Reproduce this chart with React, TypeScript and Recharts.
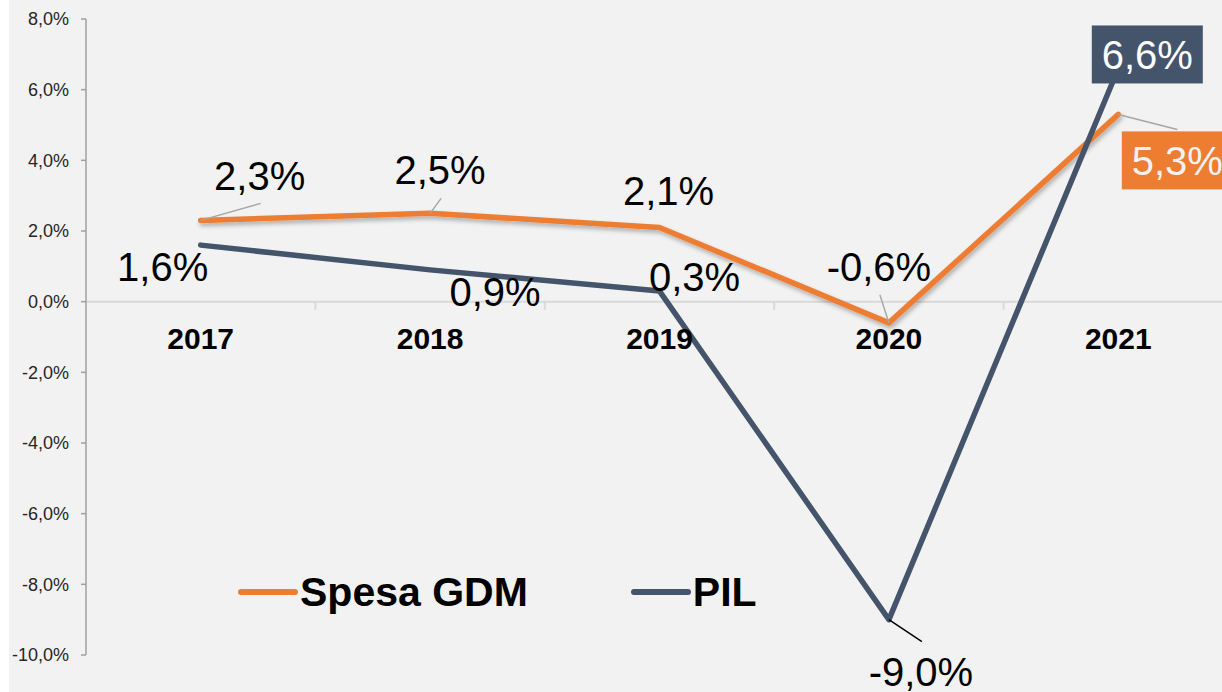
import React from 'react';
import {
  LineChart,
  Line,
  XAxis,
  YAxis,
  ReferenceLine,
  ReferenceDot,
  LabelList,
  Legend,
} from 'recharts';

const years = ['2017', '2018', '2019', '2020', '2021'];
const spesaGdm = [2.3, 2.5, 2.1, -0.6, 5.3];
const pil = [1.6, 0.9, 0.3, -9.0, 6.6];
const yTicks = [-10, -8, -6, -4, -2, 0, 2, 4, 6, 8];

const ORANGE = '#ed7d31';
const SLATE = '#44546a';
const FONT = "'Liberation Sans', Arial, Helvetica, sans-serif";

const data = years.map((year, i) => ({
  x: i + 0.5,
  year,
  spesa: spesaGdm[i],
  pil: pil[i],
}));

// where each value label sits, relative to its point
type LabelPlace = {
  dx: number;
  dy: number;
  lead?: [number, number];
  leadColor?: string;
  box?: string;
  color?: string;
};

const spesaPlaces: LabelPlace[] = [
  { dx: 59, dy: -45, lead: [60, -17] },
  { dx: 10, dy: -44, lead: [11, -15] },
  { dx: 9, dy: -37 },
  { dx: -10, dy: -56, lead: [-9, -28] },
  { dx: 59, dy: 46, lead: [59, 15], box: ORANGE, color: '#f2f2f2' },
];

const pilPlaces: LabelPlace[] = [
  { dx: -38, dy: 22 },
  { dx: 65, dy: 22 },
  { dx: 35, dy: -14 },
  { dx: 32, dy: 52, lead: [33, 22], leadColor: '#000' },
  { dx: 29, dy: -14, box: SLATE, color: '#fff' },
];

const fmt = (v: number) => `${v.toFixed(1).replace('.', ',')}%`;

const makeLabel = (places: LabelPlace[]) => (props: any) => {
  const { x, y, value, index } = props;
  const p = places[index];
  if (!p || x == null || y == null) return null;
  const cx = x + p.dx;
  const cy = y + p.dy;
  const fs = 40;
  return (
    <g>
      {p.lead && (
        <line
          x1={x}
          y1={y}
          x2={x + p.lead[0]}
          y2={y + p.lead[1]}
          stroke={p.leadColor || '#a6a6a6'}
          strokeWidth={1.5}
        />
      )}
      {p.box && <rect x={cx - 55.5} y={cy - 29} width={111} height={58} fill={p.box} />}
      <text
        x={cx}
        y={cy + fs * 0.358}
        textAnchor="middle"
        fontSize={fs}
        fontFamily={FONT}
        fill={p.color || '#000'}
      >
        {fmt(value)}
      </text>
    </g>
  );
};

const renderLegend = () => (
  <div style={{ display: 'flex', alignItems: 'center', fontFamily: FONT }}>
    {[
      { name: 'Spesa GDM', color: ORANGE },
      { name: 'PIL', color: SLATE },
    ].map((item, i) => (
      <div
        key={item.name}
        style={{ display: 'flex', alignItems: 'center', marginLeft: i === 0 ? 0 : 103 }}
      >
        <svg width={60} height={12} style={{ display: 'block' }}>
          <line x1={3} y1={6} x2={57} y2={6} stroke={item.color} strokeWidth={6} strokeLinecap="round" />
        </svg>
        <span style={{ fontSize: 41, fontWeight: 'bold', color: '#000', marginLeft: 2, lineHeight: '46px' }}>
          {item.name}
        </span>
      </div>
    ))}
  </div>
);

const yearLabel = (year: string) => (props: any) => {
  const vb = props.viewBox || {};
  const cx = (vb.x ?? 0) + (vb.width ?? 0) / 2;
  const cy = (vb.y ?? 0) + (vb.height ?? 0) / 2;
  return (
    <text x={cx} y={cy + 47.5} textAnchor="middle" fontSize={30} fontWeight="bold" fontFamily={FONT} fill="#000">
      {year}
    </text>
  );
};

export default function App() {
  return (
    <div
      style={{
        position: 'absolute',
        left: 9,
        top: 0,
        width: 1213,
        height: 692,
        overflow: 'hidden',
        background: '#f2f2f2',
      }}
    >
      <LineChart width={1224} height={692} data={data} margin={{ top: 19, right: 0, left: 0, bottom: 37 }}>
        <defs>
          <filter id="lineShadow" x="-10%" y="-10%" width="120%" height="130%">
            <feDropShadow dx="1.5" dy="3" stdDeviation="2" floodColor="#000" floodOpacity="0.28" />
          </filter>
        </defs>
        <XAxis dataKey="x" type="number" domain={[0, years.length]} hide />
        <YAxis
          type="number"
          domain={[-10, 8]}
          ticks={yTicks}
          width={77}
          tickFormatter={fmt}
          tickSize={5}
          tickMargin={12}
          axisLine={{ stroke: '#a0a0a0', strokeWidth: 1.5 }}
          tickLine={{ stroke: '#a0a0a0', strokeWidth: 1.5 }}
          tick={{ fill: '#262626', fontSize: 18, fontFamily: FONT }}
          interval={0}
        />
        <ReferenceLine y={0} stroke="#d9d9d9" strokeWidth={2} />
        {years.slice(1).map((_, i) => (
          <ReferenceLine
            key={`b${i}`}
            segment={[
              { x: i + 1, y: 0 },
              { x: i + 1, y: -0.23 },
            ]}
            stroke="#d9d9d9"
            strokeWidth={2}
          />
        ))}
        {data.map((d) => (
          <ReferenceDot
            key={d.year}
            x={d.x}
            y={0}
            r={0}
            fill="none"
            stroke="none"
            label={{ content: yearLabel(d.year) }}
          />
        ))}
        <Line
          type="linear"
          dataKey="spesa"
          name="Spesa GDM"
          stroke={ORANGE}
          strokeWidth={5.5}
          strokeLinecap="round"
          strokeLinejoin="round"
          dot={false}
          filter="url(#lineShadow)"
          isAnimationActive={false}
        >
          <LabelList dataKey="spesa" content={makeLabel(spesaPlaces)} />
        </Line>
        <Line
          type="linear"
          dataKey="pil"
          name="PIL"
          stroke={SLATE}
          strokeWidth={5.5}
          strokeLinecap="round"
          strokeLinejoin="round"
          dot={false}
          isAnimationActive={false}
        >
          <LabelList dataKey="pil" content={makeLabel(pilPlaces)} />
        </Line>
        <Legend
          content={renderLegend}
          layout="horizontal"
          verticalAlign="middle"
          align="center"
          wrapperStyle={{ left: 229, top: 569, width: 'auto' }}
        />
      </LineChart>
    </div>
  );
}
